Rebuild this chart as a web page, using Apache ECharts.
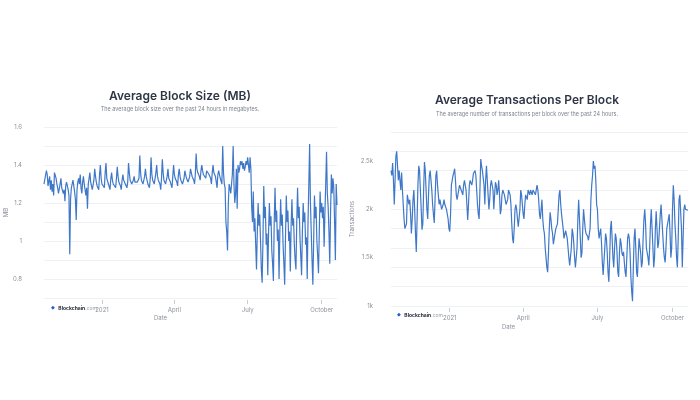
<!DOCTYPE html>
<html>
<head>
<meta charset="utf-8">
<script src="https://cdn.jsdelivr.net/npm/echarts@6/dist/echarts.min.js"></script>
<style>
html,body{margin:0;padding:0;background:#fff;}
#c{width:700px;height:400px;}
</style>
</head>
<body>
<div id="c"></div>
<script>
// ---- Data ----
const startDate = [2020, 9, 21]; // 2020-10-21, daily through 2021-10-20
const dayCount = 365;
const quarterLabels = { 0: '2021', 3: 'April', 6: 'July', 9: 'October' };

const blockSizeMB = [
1.30,1.29,1.31,1.37,1.35,1.29,1.30,
1.34,1.27,1.32,1.26,1.30,1.24,1.36,
1.37,1.33,1.30,1.28,1.25,1.24,1.30,
1.33,1.28,1.29,1.25,1.27,1.21,1.29,
1.31,1.29,1.27,1.24,0.93,1.22,1.28,
1.30,1.32,1.29,1.26,1.22,1.11,1.27,
1.31,1.33,1.30,1.35,1.28,1.25,1.31,
1.34,1.30,1.27,1.24,1.28,1.17,1.30,
1.33,1.36,1.31,1.29,1.27,1.26,1.32,
1.38,1.34,1.31,1.29,1.28,1.27,1.35,
1.40,1.33,1.30,1.31,1.29,1.28,1.36,
1.41,1.33,1.32,1.30,1.29,1.27,1.33,
1.36,1.32,1.30,1.31,1.30,1.28,1.33,
1.39,1.34,1.31,1.30,1.29,1.27,1.32,
1.35,1.32,1.31,1.30,1.30,1.28,1.31,
1.41,1.36,1.32,1.31,1.30,1.29,1.32,
1.34,1.31,1.32,1.30,1.31,1.30,1.33,
1.45,1.36,1.32,1.31,1.30,1.29,1.34,
1.38,1.34,1.33,1.30,1.31,1.28,1.33,
1.44,1.35,1.32,1.31,1.30,1.29,1.36,
1.40,1.34,1.32,1.31,1.30,1.27,1.33,
1.43,1.36,1.32,1.31,1.30,1.29,1.34,
1.38,1.33,1.32,1.31,1.30,1.28,1.34,
1.40,1.35,1.33,1.32,1.31,1.29,1.35,
1.38,1.34,1.32,1.31,1.30,1.29,1.33,
1.37,1.35,1.33,1.32,1.31,1.30,1.34,
1.38,1.36,1.34,1.33,1.32,1.30,1.35,
1.46,1.38,1.36,1.35,1.34,1.32,1.37,
1.40,1.37,1.35,1.36,1.34,1.33,1.37,
1.38,1.36,1.35,1.34,1.33,1.30,1.36,
1.40,1.36,1.35,1.34,1.33,1.28,1.35,
1.37,1.35,1.33,1.32,1.30,1.50,1.36,
1.30,1.28,1.10,1.05,0.95,1.20,1.30,
1.28,1.25,1.30,1.35,1.50,1.30,1.20,
1.25,1.38,1.17,1.40,1.36,1.38,1.42,
1.40,1.42,1.38,1.41,1.37,1.39,1.42,
1.40,1.44,1.40,1.36,1.44,1.38,1.18,
1.10,1.26,1.05,1.12,0.98,0.85,1.05,
1.20,1.08,1.14,1.00,0.85,0.78,1.00,
1.29,1.12,1.18,0.98,1.04,0.82,1.05,
1.20,1.08,1.13,0.95,0.88,0.79,1.10,
1.28,1.10,1.16,1.00,1.06,0.80,1.05,
1.22,1.08,1.14,0.98,0.88,0.77,1.02,
1.24,1.10,1.16,1.00,1.05,0.84,1.08,
1.22,1.08,1.12,0.98,0.90,0.85,1.10,
1.28,1.12,1.18,1.02,0.92,0.82,1.05,
1.20,1.10,1.15,0.98,1.02,0.80,1.10,
1.30,1.51,1.20,1.05,0.90,0.77,1.00,
1.24,1.12,1.18,1.00,0.92,0.83,1.05,
1.26,1.15,1.20,1.12,1.18,0.97,1.15,
1.30,1.47,1.25,1.18,1.05,0.88,1.15,
1.35,1.25,1.33,1.28,1.10,0.90,1.30,
1.19
];

const txPerBlock = [
2400,2350,2480,2300,2050,2300,2550,
2600,2450,2300,2400,2300,2200,2380,
2200,2050,1900,1800,1790,1850,2150,
2150,2050,2100,1950,1750,1900,2100,
2200,2000,1750,1560,1900,2250,2450,
2400,2200,2000,1790,1850,2200,2490,
2400,2200,2000,1900,2150,2350,2400,
2300,2200,2050,1950,1860,2100,2350,
2400,2250,2150,2050,2100,2050,2000,
1980,2050,2100,2050,2050,2000,2000,
1900,1800,1770,1950,2250,2300,2350,
2380,2420,2300,2150,2100,2150,2200,
2250,2250,2200,2200,2150,2250,2300,
2300,2200,2050,1890,2050,2250,2300,
2300,2250,2300,2370,2370,2400,2350,
2200,2050,1950,1900,2200,2520,2450,
2400,2420,2250,2050,2300,2450,2300,
2150,2000,2100,2250,2300,2300,2200,
2000,2150,2280,2250,2150,2200,2300,
2150,1950,2000,2150,2200,2200,2150,
2100,2050,2050,2100,2200,2200,2150,
2050,1850,1700,1650,1800,2000,2050,
2000,1900,1820,1800,2000,2200,2150,
2050,1950,1900,2050,2150,2150,2100,
2200,2200,2150,2200,2200,2150,2200,
2220,2200,2150,2170,2250,2200,2100,
1950,1900,2000,2100,1900,1800,1750,
1600,1500,1400,1350,1550,1800,1970,
1900,1800,1750,1640,1660,1750,1800,
1790,1850,2000,2150,2200,2050,1950,
1950,1800,1700,1720,1780,1780,1700,
1600,1500,1420,1400,1600,1800,1750,
1650,1500,1400,1380,1600,1900,2100,
1900,1700,1500,1550,1800,2000,1900,
1800,1750,1760,1720,1680,1660,1800,
2100,2250,2350,2500,2420,2450,2300,
2050,2000,1800,1700,1750,1800,1650,
1450,1320,1300,1600,1750,1700,1550,
1350,1250,1500,1800,1880,1700,1500,
1400,1600,1750,1700,1550,1350,1300,
1550,1700,1650,1550,1520,1560,1450,
1350,1300,1500,1700,1750,1700,1550,
1300,1150,1050,1400,1700,1800,1600,
1350,1300,1500,1700,1700,1550,1400,
1450,1700,1900,2000,1850,1600,1550,
1500,1420,1600,1850,2000,1800,1600,
1400,1500,1800,1980,1800,1600,1650,
1800,1950,2050,1900,1750,1600,1500,
1450,1600,1800,1800,1900,1950,1750,
1500,1600,2000,2250,2100,1850,1700,
1500,1400,1700,2100,2150,2150,1800,
1400,1420,2000,2050,2000,1980,2020,
1990
];

// ---- Build categories ----
const dates = [];
for (let i = 0; i < dayCount; i++) {
  const d = new Date(Date.UTC(startDate[0], startDate[1], startDate[2] + i));
  dates.push(d.toISOString().slice(0, 10));
}
function isQuarterStart(idx) {
  const s = dates[idx];
  const m = +s.slice(5, 7) - 1, day = +s.slice(8, 10);
  return day === 1 && quarterLabels.hasOwnProperty(m);
}
function quarterText(v) {
  const m = +v.slice(5, 7) - 1;
  return quarterLabels[m];
}

const FONT = 'Inter, "Noto Sans", sans-serif';
const LINE = '#3f78c8';
const GRID = '#eef0f4';
const LABEL = '#8b919b';

function xAxisFor(gridIndex) {
  return {
    type: 'category', gridIndex, data: dates, boundaryGap: false, offset: 2,
    axisLine: { show: false },
    axisTick: { show: true, length: 4, interval: (i) => isQuarterStart(i), lineStyle: { color: '#c9cdd4' } },
    axisLabel: { interval: (i) => isQuarterStart(i), formatter: quarterText, color: LABEL, fontSize: 6, fontFamily: FONT, margin: 7 },
    splitLine: { show: false }
  };
}

const logoRich = {
  i: { fontSize: 5, fill: '#2a5bd7' },
  b: { fontSize: 5, fontWeight: 700, fill: '#1b2230', fontFamily: FONT },
  c: { fontSize: 5, fill: '#9aa0a8', fontFamily: FONT }
};

const chart = echarts.init(document.getElementById('c'), null, { renderer: 'canvas' });
chart.setOption({
  backgroundColor: '#fff',
  animation: false,
  title: [
    { text: 'Average Block Size (MB)', subtext: 'The average block size over the past 24 hours in megabytes.',
      left: 175, top: 85, textAlign: 'center', itemGap: 4,
      textStyle: { fontFamily: FONT, fontSize: 12, fontWeight: 600, color: '#2e3646', lineHeight: 12 },
      subtextStyle: { fontFamily: FONT, fontSize: 5.5, color: '#7d838d', lineHeight: 6 } },
    { text: 'Average Transactions Per Block', subtext: 'The average number of transactions per block over the past 24 hours.',
      left: 522, top: 89, textAlign: 'center', itemGap: 5,
      textStyle: { fontFamily: FONT, fontSize: 12, fontWeight: 600, color: '#2e3646', lineHeight: 12 },
      subtextStyle: { fontFamily: FONT, fontSize: 5.5, color: '#7d838d', lineHeight: 6 } }
  ],
  grid: [
    { left: 44, top: 127, width: 293, height: 171 },
    { left: 391, top: 132, width: 297, height: 174 }
  ],
  xAxis: [xAxisFor(0), xAxisFor(1)],
  yAxis: [
    { type: 'value', gridIndex: 0, min: 0.7, max: 1.6, interval: 0.1,
      name: 'MB', nameLocation: 'middle', nameGap: 31, nameRotate: 90,
      nameTextStyle: { fontFamily: FONT, fontSize: 6, color: LABEL },
      axisLine: { show: false }, axisTick: { show: false },
      axisLabel: { color: LABEL, fontSize: 6, fontFamily: FONT, margin: 22,
        formatter: (v) => { const r = Math.round(v * 10); return r % 2 === 0 ? String(r / 10) : ''; } },
      splitLine: { lineStyle: { color: GRID, width: 1 } } },
    { type: 'value', gridIndex: 1, min: 1000, max: 2800, interval: 200,
      axisLine: { show: false }, axisTick: { show: false }, axisLabel: { show: false },
      splitLine: { lineStyle: { color: GRID, width: 1 } } },
    { type: 'value', gridIndex: 1, min: 1000, max: 2800, interval: 500, position: 'left',
      name: 'Transactions', nameLocation: 'middle', nameGap: 36, nameRotate: 90,
      nameTextStyle: { fontFamily: FONT, fontSize: 6, color: LABEL },
      axisLine: { show: false }, axisTick: { show: false }, splitLine: { show: false },
      axisLabel: { color: LABEL, fontSize: 6, fontFamily: FONT, margin: 18, showMaxLabel: false,
        formatter: (v) => (v / 1000) + 'k' } }
  ],
  series: [
    { type: 'line', xAxisIndex: 0, yAxisIndex: 0, data: blockSizeMB, showSymbol: false, symbol: 'none',
      lineStyle: { color: LINE, width: 1.2 }, itemStyle: { color: LINE } },
    { type: 'line', xAxisIndex: 1, yAxisIndex: 1, data: txPerBlock, showSymbol: false, symbol: 'none',
      lineStyle: { color: LINE, width: 1.2 }, itemStyle: { color: LINE } }
  ],
  graphic: [
    { type: 'text', left: 154, top: 315, style: { text: 'Date', fontFamily: FONT, fontSize: 6, fill: LABEL, align: 'center' } },
    { type: 'text', left: 502, top: 324, style: { text: 'Date', fontFamily: FONT, fontSize: 6, fill: LABEL, align: 'center' } },
    { type: 'text', left: 51, top: 302, style: { rich: logoRich, text: '{i|◆} {b|Blockchain}{c|.com}' } },
    { type: 'text', left: 397, top: 309, style: { rich: logoRich, text: '{i|◆} {b|Blockchain}{c|.com}' } }
  ]
});
</script>
</body>
</html>
